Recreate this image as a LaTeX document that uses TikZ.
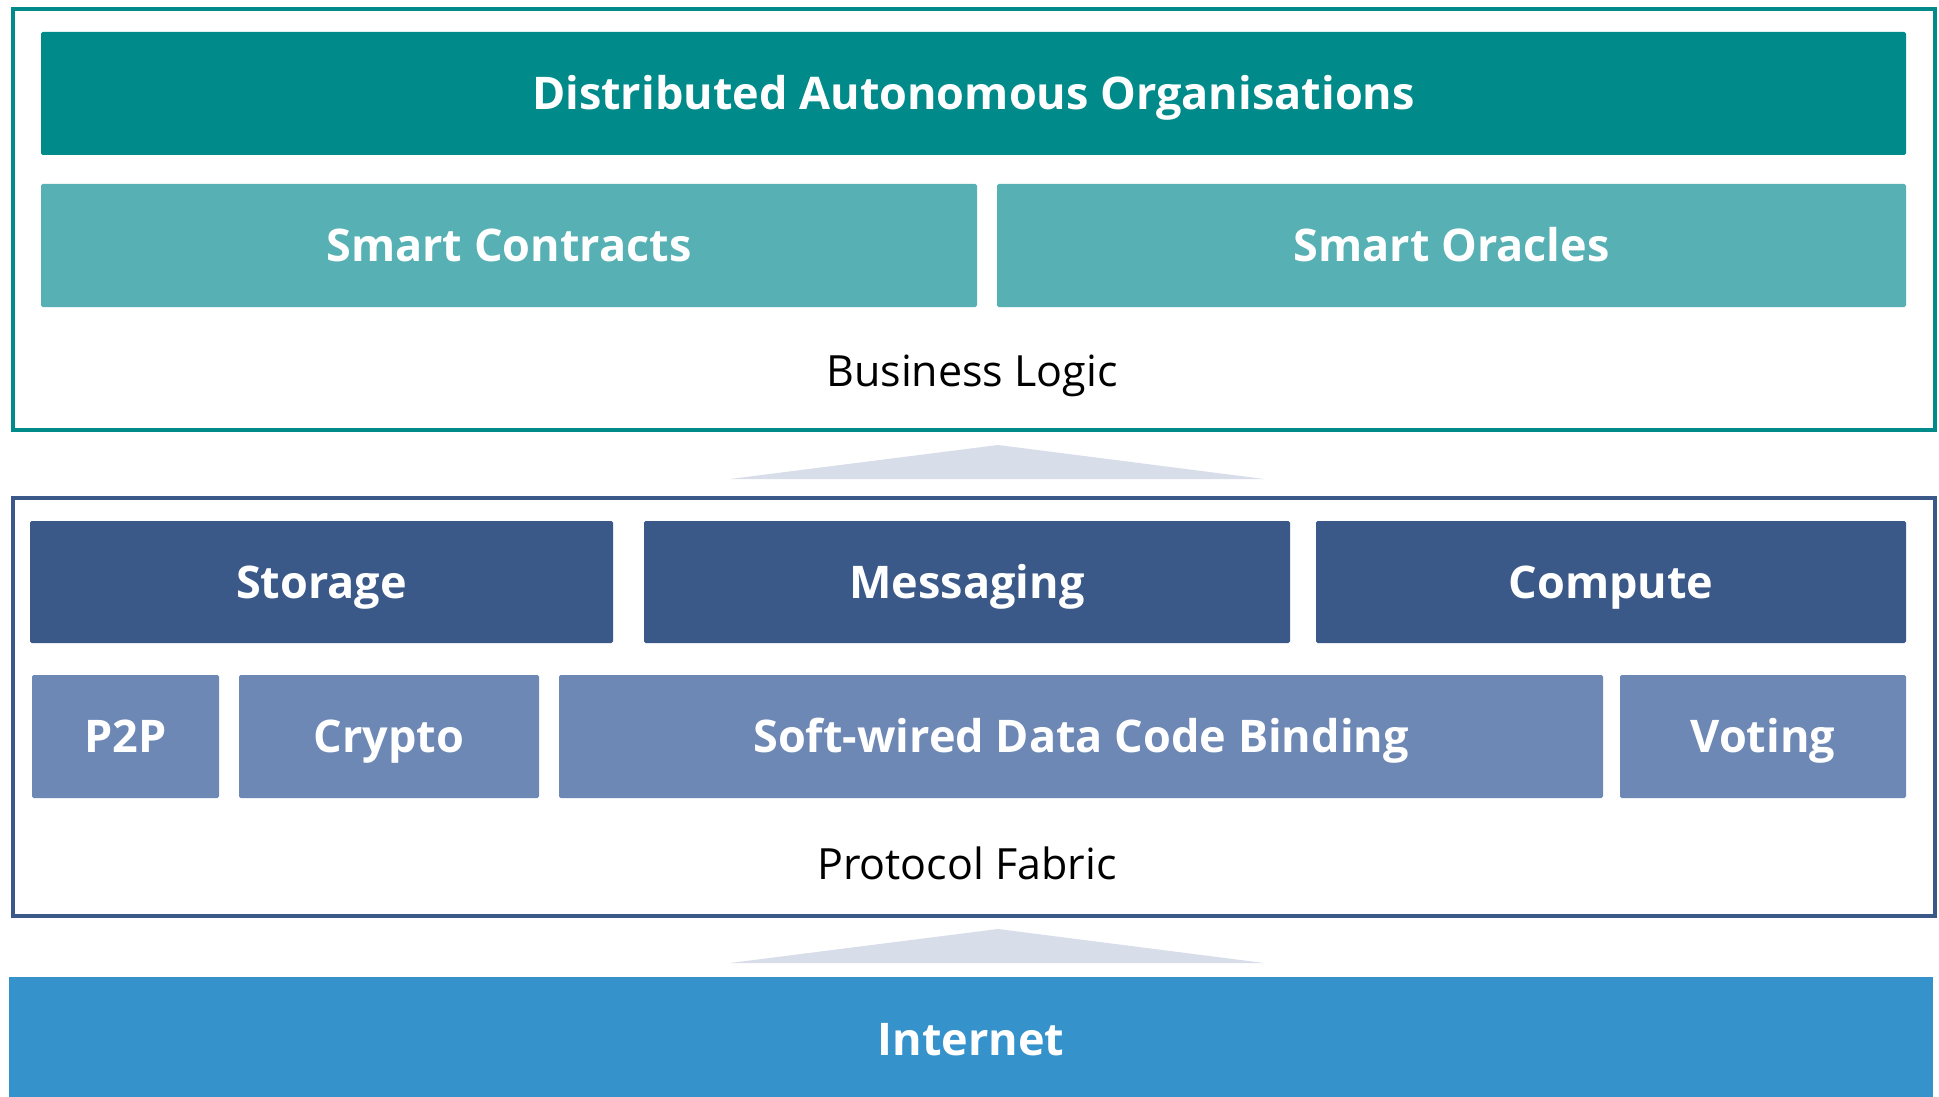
\documentclass[tikz,border=0pt]{standalone}
\usepackage{fontspec}
\setmainfont{Open Sans}
\definecolor{teal1}{HTML}{008A8A}
\definecolor{teal2}{HTML}{57B1B4}
\definecolor{navy1}{HTML}{3A5888}
\definecolor{navy2}{HTML}{6D88B4}
\definecolor{tri}{HTML}{D8DDEA}
\definecolor{inet}{HTML}{3592CB}
\tikzset{
  x=0.5pt,y=-0.5pt,
  box/.style={rectangle, rounded corners=0.8pt, inner sep=0pt, text=white,
    font=\fontsize{22.5}{26}\selectfont\bfseries, anchor=center,
    text height=16pt, text depth=0pt},
  frame/.style={rectangle, draw, line width=1.8pt, inner sep=0pt, anchor=north west},
  lbl/.style={font=\fontsize{21.5}{25}\selectfont, text=black, anchor=center,
    text height=15.4pt, text depth=0pt, inner sep=0pt},
  arrowtri/.style={fill=tri, draw=none}
}
\begin{document}
\begin{tikzpicture}
\useasboundingbox[fill=white] (0,0) rectangle (1939,1097);
% frames
\node[frame, draw=teal1, minimum width=961pt, minimum height=210.5pt] (blframe) at (11,7) {};
\node[frame, draw=navy1, minimum width=961pt, minimum height=209pt] (pfframe) at (11,496) {};
% business logic
\node[box, fill=teal1, minimum width=932.5pt, minimum height=61.5pt] (dao) at (973.5,93.5) {Distributed Autonomous Organisations};
\node[box, fill=teal2, minimum width=468pt, minimum height=61.5pt] (sc) at (509,245.5) {Smart Contracts};
\node[box, fill=teal2, minimum width=454.5pt, minimum height=61.5pt] (so) at (1451.5,245.5) {Smart Oracles};
\node[lbl] (bl) at (972,371) {Business Logic};
% triangle 1
\coordinate (t1a) at (998,445);
\coordinate (t1l) at (730,479);
\coordinate (t1r) at (1264,479);
\fill[arrowtri] (t1l) -- (t1a) -- (t1r) -- cycle;
% protocol fabric
\node[box, fill=navy1, minimum width=291.5pt, minimum height=61pt] (storage) at (321.5,582) {Storage};
\node[box, fill=navy1, minimum width=323pt, minimum height=61pt] (msg) at (967,582) {Messaging};
\node[box, fill=navy1, minimum width=295pt, minimum height=61pt] (compute) at (1611,582) {Compute};
\node[box, fill=navy2, minimum width=93.5pt, minimum height=61.5pt] (p2p) at (125.5,736.5) {P2P};
\node[box, fill=navy2, minimum width=150pt, minimum height=61.5pt] (crypto) at (389,736.5) {Crypto};
\node[box, fill=navy2, minimum width=522pt, minimum height=61.5pt] (soft) at (1081,736.5) {Soft-wired Data Code Binding};
\node[box, fill=navy2, minimum width=143pt, minimum height=61.5pt] (voting) at (1763,736.5) {Voting};
\node[lbl] (pf) at (967,864) {Protocol Fabric};
% triangle 2
\coordinate (t2a) at (998,929);
\coordinate (t2l) at (730,963);
\coordinate (t2r) at (1264,963);
\fill[arrowtri] (t2l) -- (t2a) -- (t2r) -- cycle;
% internet
\node[box, fill=inet, rounded corners=0pt, minimum width=962pt, minimum height=62pt] (inet) at (971,1039) {Internet};
\end{tikzpicture}
\end{document}
